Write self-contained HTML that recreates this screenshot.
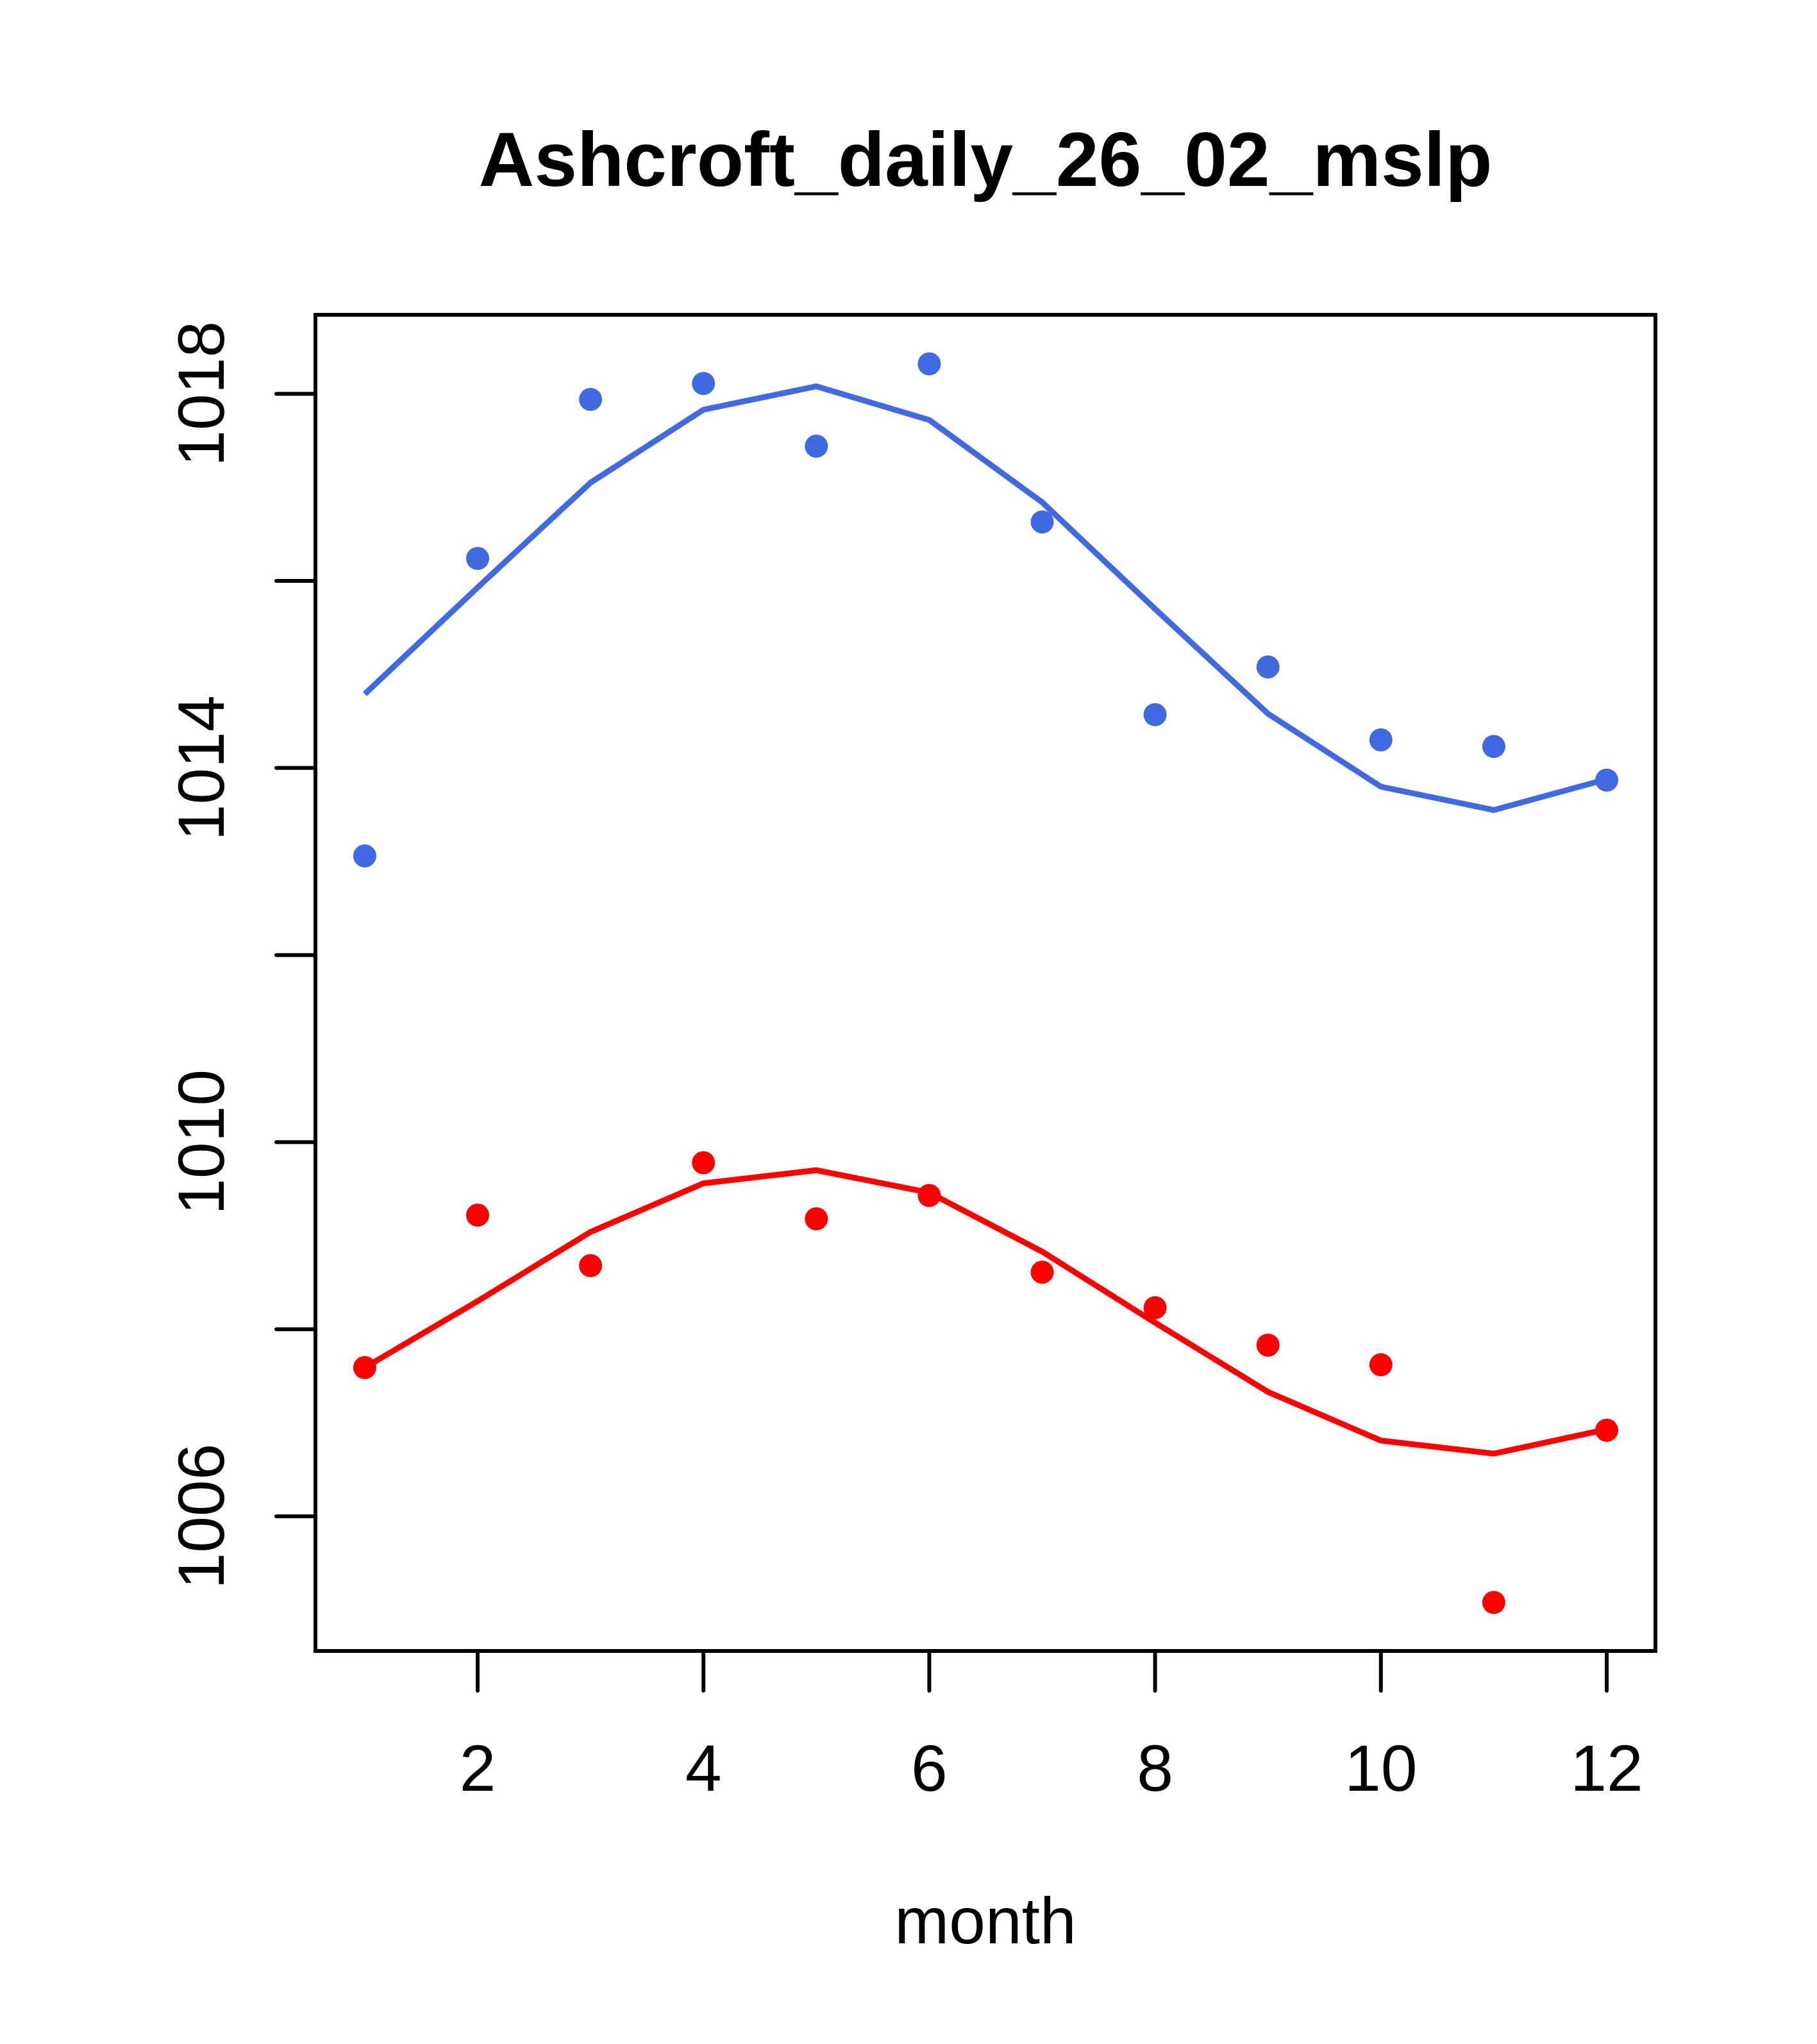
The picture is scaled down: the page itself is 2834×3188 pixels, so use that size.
<!DOCTYPE html>
<html><head><meta charset="utf-8"><style>
html,body{margin:0;padding:0;background:#fff;}
svg{display:block;font-family:"Liberation Sans",Arial,sans-serif;}
</style></head><body>
<svg id="chart" width="2834" height="3188" viewBox="0 0 2834 3188" xmlns="http://www.w3.org/2000/svg">
<rect width="2834" height="3188" fill="#fff"/>
<text x="1537" y="290" text-anchor="middle" font-size="120" font-weight="bold">Ashcroft_daily_26_02_mslp</text>
<text x="1537" y="3031" text-anchor="middle" font-size="102">month</text>
<g id="plot"></g>
</svg>
<script>
const months = [1,2,3,4,5,6,7,8,9,10,11,12];
const bluePoints = [1013.06,1016.24,1017.94,1018.11,1017.44,1018.32,1016.63,1014.57,1015.08,1014.30,1014.23,1013.87];
const blueLine = [1014.79,1015.93,1017.05,1017.83,1018.08,1017.72,1016.84,1015.70,1014.58,1013.80,1013.55,1013.88];
const redPoints = [1007.59,1009.22,1008.68,1009.78,1009.18,1009.43,1008.61,1008.23,1007.83,1007.62,1005.08,1006.92];
const redLine = [1007.59,1008.30,1009.04,1009.56,1009.70,1009.46,1008.83,1008.07,1007.33,1006.81,1006.67,1006.93];
const xTicks = [2,4,6,8,10,12];
const yTicks = [1006,1008,1010,1012,1014,1016,1018];
const yLabels = [1006,1010,1014,1018];

const NS = "http://www.w3.org/2000/svg";
const g = document.getElementById('plot');
function xs(m){ return 745 + (m-2)*176.1; }
function ys(v){ return 2365 - (v-1006)*145.9; }
function mk(tag, attrs){ const e=document.createElementNS(NS,tag); for(const k in attrs) e.setAttribute(k,attrs[k]); g.appendChild(e); return e; }

const box = mk('rect',{x:492,y:491,width:2090,height:2084,fill:'none',stroke:'#000','stroke-width':6});



xTicks.forEach(t=>{
  const l = mk('line',{x1:xs(t),x2:xs(t),y1:2575,y2:2637,stroke:'#000','stroke-width':6,'stroke-linecap':'round'});
  
  
  const tx = mk('text',{x:xs(t),y:2793,'text-anchor':'middle','font-size':102});
  tx.textContent = t;
  
  
});
yTicks.forEach(t=>{
  const l = mk('line',{x1:431,x2:492,y1:ys(t),y2:ys(t),stroke:'#000','stroke-width':6,'stroke-linecap':'round'});
  
  
});
yLabels.forEach(t=>{
  const tx = mk('text',{x:349,y:ys(t),'text-anchor':'middle','font-size':102,transform:`rotate(-90 349 ${ys(t)})`});
  tx.textContent = t;
  
  
});

function series(pts, line, color, name){
  const p = mk('polyline',{points:months.map((m,i)=>xs(m)+','+ys(line[i])).join(' '),fill:'none',stroke:color,'stroke-width':9,'stroke-linejoin':'round'});
  
  
  months.forEach((m,i)=>{
    const c = mk('circle',{cx:xs(m),cy:ys(pts[i]),r:18,fill:color});
    
    
  });
}
series(bluePoints, blueLine, '#4169e1', 'blue-series');
series(redPoints, redLine, '#ff0000', 'red-series');
</script>
</body></html>
